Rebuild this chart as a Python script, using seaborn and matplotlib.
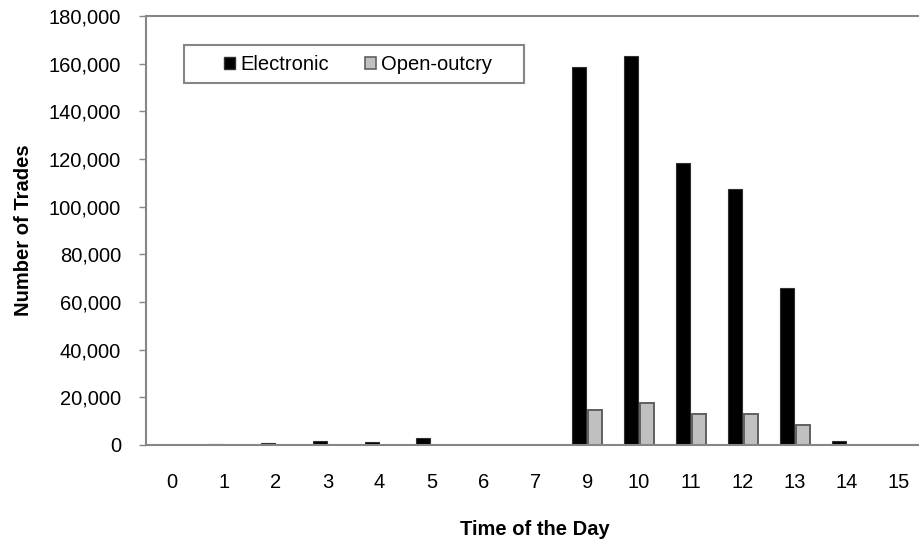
import pandas as pd
import matplotlib
matplotlib.use('Agg')
import matplotlib.pyplot as plt
import matplotlib.patches as mpatches
from matplotlib.ticker import FuncFormatter, FixedLocator
import seaborn as sns

sns.set_style('white')
plt.rcParams['font.family'] = ['Liberation Sans', 'DejaVu Sans']
plt.rcParams['text.color'] = 'black'
plt.rcParams['axes.labelcolor'] = 'black'
plt.rcParams['xtick.color'] = 'black'
plt.rcParams['ytick.color'] = 'black'

hours = ['0', '1', '2', '3', '4', '5', '6', '7', '9', '10', '11', '12', '13', '14', '15']
electronic = [0, 500, 900, 1500, 1400, 2900, 0, 0, 158500, 163200, 118500, 107300, 66000, 1700, 0]
open_outcry = [0, 0, 0, 0, 0, 0, 0, 0, 14700, 17800, 13000, 12900, 8500, 200, 200]

df = pd.DataFrame({
    'hour': hours * 2,
    'trades': electronic + open_outcry,
    'type': ['Electronic'] * len(hours) + ['Open-outcry'] * len(hours),
})

grey = '#868686'
fs = 14.5
fig = plt.figure(figsize=(9.19, 5.4), dpi=100)
ax = fig.add_axes([146 / 919, 1 - 445 / 540, 778.5 / 919, 429 / 540])

sns.barplot(data=df, x='hour', y='trades', hue='type', order=hours,
            palette={'Electronic': '#000000', 'Open-outcry': '#c0c0c0'},
            width=0.62, gap=0.13, ax=ax, legend=False)

# edge colours per series
n = len(hours)
for i, p in enumerate(ax.patches[:2 * n]):
    if i < n:
        p.set_edgecolor('#303030')
        p.set_linewidth(0.8)
    else:
        p.set_edgecolor('#606060')
        p.set_linewidth(1.4)

ax.set_xlim(-0.5, n - 0.5)
ax.set_ylim(0, 180000)
ax.set_yticks(range(0, 180001, 20000))
ax.yaxis.set_major_formatter(FuncFormatter(lambda v, _: f'{int(v):,}'))

# tick marks between categories, labels at centres
ax.xaxis.set_minor_locator(FixedLocator([i - 0.5 for i in range(n + 1)]))
ax.tick_params(axis='x', which='major', length=0, pad=20, labelsize=fs)
ax.tick_params(axis='x', which='minor', length=5, width=1, color=grey, direction='out')
ax.tick_params(axis='y', which='major', length=5, width=1, color=grey, direction='out',
               pad=13, labelsize=fs, left=True)

for side in ['left', 'bottom', 'top']:
    ax.spines[side].set_visible(True)
    ax.spines[side].set_color(grey)
    ax.spines[side].set_linewidth(1.5)
ax.spines['right'].set_visible(False)

ax.set_xlabel('Time of the Day', fontsize=fs, fontweight='bold', labelpad=20)
ax.set_ylabel('Number of Trades', fontsize=fs, fontweight='bold', labelpad=11)

# legend
fig.patches.append(mpatches.Rectangle((184 / 919, 1 - 83 / 540), 340 / 919, 38 / 540,
                                      transform=fig.transFigure, fill=False,
                                      edgecolor=grey, linewidth=1.5))
handles = [mpatches.Patch(facecolor='#000000', edgecolor='#303030', label='Electronic'),
           mpatches.Patch(facecolor='#c0c0c0', edgecolor='#606060', linewidth=1.2,
                          label='Open-outcry')]
fig.legend(handles=handles, loc='center left', bbox_to_anchor=(224 / 919, 1 - 65 / 540),
           ncol=2, frameon=False, fontsize=fs, handlelength=0.55, handleheight=0.55,
           handletextpad=0.25, columnspacing=1.8, borderaxespad=0, borderpad=0)

fig.savefig('out.png', dpi=100)
